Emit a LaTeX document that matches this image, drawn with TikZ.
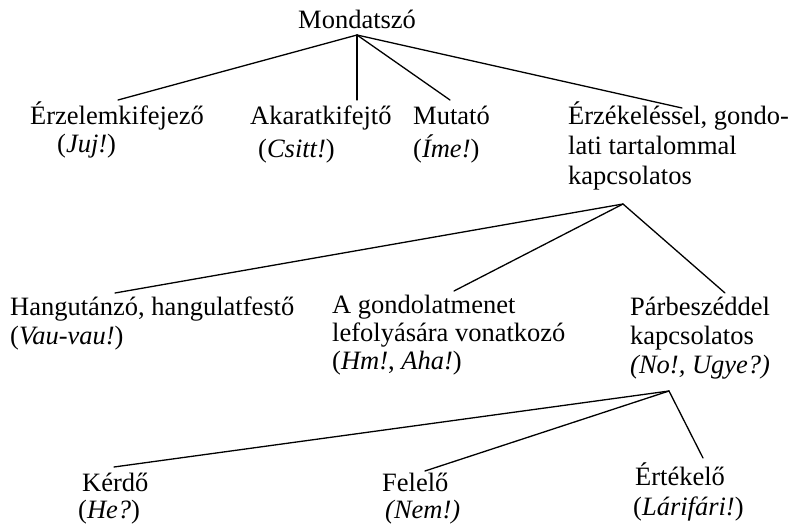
\documentclass[tikz,border=0pt]{standalone}
\usepackage{fontspec}
\setmainfont{Liberation Serif}
\newcommand{\ml}[1]{\begin{tabular}[t]{@{}l@{}}#1\end{tabular}}
\begin{document}
\begin{tikzpicture}[x=1pt,y=-1pt,
  lbl/.style={anchor=base west, inner sep=0pt, font=\fontsize{26.5}{29}\selectfont},
  branch/.style={line width=1.3pt, line cap=round}]
\useasboundingbox (0,0) rectangle (795,526);

% nodes
\node[lbl] (root) at (298,29) {Mondatszó};
\node[lbl] (n1) at (30,125) {\ml{Érzelemkifejező\\[-1pt]\hspace*{27pt}(\textit{Juj!})}};
\node[lbl] (n2) at (250,125) {\ml{Akaratkifejtő\\[4pt]\hspace*{8pt}(\textit{Csitt!})}};
\node[lbl] (n3) at (413,125) {\ml{Mutató\\[1pt](\textit{Íme!})}};
\node[lbl] (n4) at (568,125) {\ml{Érzékeléssel, gondo-\\[1pt]lati tartalommal\\[1pt]kapcsolatos}};
\node[lbl] (m1) at (10,316) {\ml{Hangutánzó, hangulatfestő\\(\textit{Vau-vau!})}};
\node[lbl] (m2) at (332,314) {\ml{A gondolatmenet\\[-1pt]lefolyására vonatkozó\\[-1pt](\textit{Hm!}, \textit{Aha!})}};
\node[lbl] (m3) at (630,316) {\ml{Párbeszéddel\\kapcsolatos\\\textit{(No!, Ugye?)}}};
\node[lbl] (b1) at (82,491) {\ml{Kérdő\\[-2pt]\hspace*{-4pt}(\textit{He?})}};
\node[lbl] (b2) at (382,491) {\ml{Felelő\\[-2pt]\hspace*{3pt}\textit{(Nem!)}}};
\node[lbl] (b3) at (635,485) {\ml{Értékelő\\[1pt]\hspace*{-2pt}(\textit{Lárifári!})}};

% connection points
\coordinate (r0) at (357,35);
\coordinate (n1t) at (118,100);
\coordinate (n2t) at (357,100);
\coordinate (n3t) at (450,100);
\coordinate (n4t) at (682,108);
\coordinate (n4b) at (623,204);
\coordinate (m1t) at (115,293);
\coordinate (m2t) at (454,291);
\coordinate (m3t) at (725,293);
\coordinate (m3b) at (669,391);
\coordinate (b1t) at (114,467);
\coordinate (b2t) at (425,471);
\coordinate (b3t) at (703,458);

% connectors
\draw[branch] (r0) -- (n1t);
\draw[branch] (r0) -- (n2t);
\draw[branch] (r0) -- (n3t);
\draw[branch] (r0) -- (n4t);
\draw[branch] (n4b) -- (m1t);
\draw[branch] (n4b) -- (m2t);
\draw[branch] (n4b) -- (m3t);
\draw[branch] (m3b) -- (b1t);
\draw[branch] (m3b) -- (b2t);
\draw[branch] (m3b) -- (b3t);
\end{tikzpicture}
\end{document}
